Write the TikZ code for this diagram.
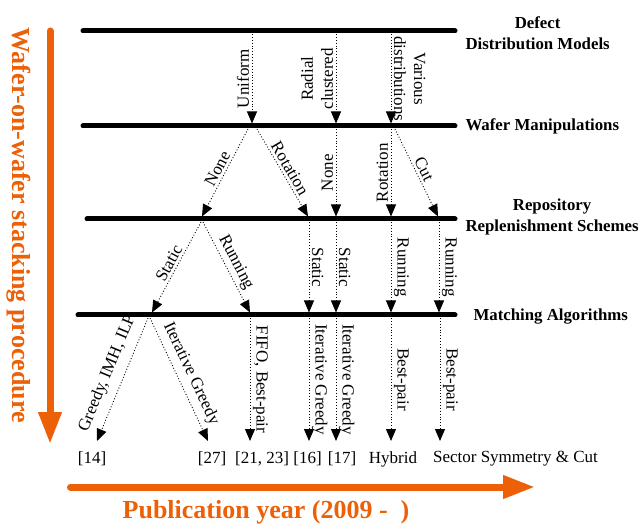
\documentclass[tikz,border=0pt]{standalone}
\usepackage{fontspec}
\setmainfont{Liberation Serif}
\usetikzlibrary{arrows.meta}
\definecolor{wow}{RGB}{236,96,8}

\tikzset{
	bar/.style={line width=5pt, line cap=round},
	flow/.style={dotted, line width=0.9pt, -{Triangle[length=12pt,width=10pt]}},
	lbl/.style={font=\fontsize{17}{20}\selectfont, inner sep=2.5pt, align=center},
	layer/.style={font=\fontsize{16.8}{21}\selectfont\bfseries, align=center, anchor=west},
	axis/.style={wow, line width=7pt, line cap=round, -{Triangle[length=32pt,width=22pt]}},
	axislbl/.style={wow, font=\fontsize{26}{28}\selectfont\bfseries},
	cite/.style={font=\fontsize{17}{20}\selectfont, inner sep=1pt}
}

\begin{document}
\begin{tikzpicture}[x=1pt, y=-1pt]
			\useasboundingbox (0,0) rectangle (641,524);

			\draw[axis] (50,31) -- (50,444);
			\draw[axis] (70.5,487) -- (535,487);
			\node[axislbl, rotate=-90] (proc) at (19,225) {Wafer-on-wafer stacking procedure};
			\node[axislbl] (year) at (266,512) {Publication year (2009 -\ \ )};

			\draw[bar] (83,31) -- (455,31);
			\draw[bar] (83,126) -- (455,126);
			\draw[bar] (87,219) -- (455,219);
			\draw[bar] (78,315) -- (455,315);

			\node[layer] (defect) at (462,33) {Defect\\Distribution Models};
			\node[layer] (manip) at (462,126) {Wafer Manipulations};
			\node[layer] (repo) at (462,217) {Repository\\Replenishment Schemes};
			\node[layer] (match) at (470,317) {Matching Algorithms};

			\foreach \n/\u in {uni/252, rad/336, var/391}
				{
					\coordinate (d-\n) at (\u,34);
					\coordinate (m-\n) at (\u,123.5);
				}
			\draw[flow] (d-uni) -- node[lbl, midway, rotate=90, above] (l-uni) {Uniform} (m-uni);
			\draw[flow] (d-rad) -- node[lbl, midway, rotate=90, above] (l-rad) {Radial\\clustered} (m-rad);
			\draw[flow] (d-var) -- node[lbl, midway, rotate=-90, above] (l-var) {Various\\distributions} (m-var);

			\coordinate (m-none) at (248,129);
			\coordinate (m-rot) at (257,129);
			\coordinate (m-none2) at (336,129);
			\coordinate (m-rot2) at (391,129);
			\coordinate (m-cut) at (395,129);
			\foreach \n/\u in {none/202, rot/308, none2/336, rot2/391, cut/438}
				\coordinate (r-\n) at (\u,216.5);
			\draw[flow] (m-none) -- node[lbl, midway, sloped, above] (l-none) {None} (r-none);
			\draw[flow] (m-rot) -- node[lbl, midway, sloped, above] (l-rot) {Rotation} (r-rot);
			\draw[flow] (m-none2) -- node[lbl, midway, rotate=90, above] (l-none2) {None} (r-none2);
			\draw[flow] (m-rot2) -- node[lbl, midway, rotate=90, above] (l-rot2) {Rotation} (r-rot2);
			\draw[flow] (m-cut) -- node[lbl, midway, sloped, above] (l-cut) {Cut} (r-cut);

			\foreach \n/\u in {sta/201, run/203, sta2/309, sta3/336, run2/391, run3/439}
				\coordinate (r-\n) at (\u,222);
			\foreach \n/\u in {sta/152, run/250, sta2/309, sta3/336, run2/391, run3/439}
				\coordinate (a-\n) at (\u,312.5);
			\draw[flow] (r-sta) -- node[lbl, midway, sloped, above] (l-sta) {Static} (a-sta);
			\draw[flow] (r-run) -- node[lbl, midway, sloped, above] (l-run) {Running} (a-run);
			\draw[flow] (r-sta2) -- node[lbl, midway, rotate=-90, above] (l-sta2) {Static} (a-sta2);
			\draw[flow] (r-sta3) -- node[lbl, midway, rotate=-90, above] (l-sta3) {Static} (a-sta3);
			\draw[flow] (r-run2) -- node[lbl, midway, rotate=-90, above] (l-run2) {Running} (a-run2);
			\draw[flow] (r-run3) -- node[lbl, midway, rotate=-90, above] (l-run3) {Running} (a-run3);

			\foreach \n/\u/\v in {greedy/148/97, iter/150/208, fifo/250/250, iter2/309/309, iter3/336/336, best/391/391, best2/440/440}
				{
					\coordinate (a-\n) at (\u,318);
					\coordinate (e-\n) at (\v,441);
				}
			\draw[flow] (a-greedy) -- node[lbl, midway, sloped, above, inner sep=8pt] (l-greedy) {Greedy, IMH, ILP} (e-greedy);
			\draw[flow] (a-iter) -- node[lbl, midway, sloped, above, inner sep=5pt] (l-iter) {Iterative Greedy} (e-iter);
			\draw[flow] (a-fifo) -- node[lbl, midway, rotate=-90, above] (l-fifo) {FIFO, Best-pair} (e-fifo);
			\draw[flow] (a-iter2) -- node[lbl, midway, rotate=-90, above] (l-iter2) {Iterative Greedy} (e-iter2);
			\draw[flow] (a-iter3) -- node[lbl, midway, rotate=-90, above] (l-iter3) {Iterative Greedy} (e-iter3);
			\draw[flow] (a-best) -- node[lbl, midway, rotate=-90, above] (l-best) {Best-pair} (e-best);
			\draw[flow] (a-best2) -- node[lbl, midway, rotate=-90, above] (l-best2) {Best-pair} (e-best2);

			\node[cite] (c14) at (92,459) {[14]};
			\node[cite] (c27) at (212,459) {[27]};
			\node[cite] (c2123) at (262,459) {[21, 23]};
			\node[cite] (c16) at (307.5,459) {[16]};
			\node[cite] (c17) at (342,459) {[17]};
			\node[cite] (hybrid) at (393,459) {Hybrid};
			\node[cite] (sector) at (515.5,459) {Sector Symmetry \& Cut};
		\end{tikzpicture}
\end{document}
